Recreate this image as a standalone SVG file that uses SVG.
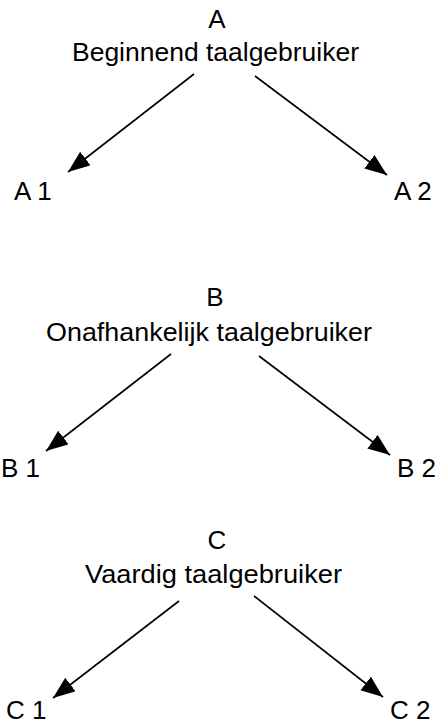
<svg xmlns="http://www.w3.org/2000/svg" width="436" height="724" viewBox="0 0 436 724">
<style>
text{font-family:"Liberation Sans",Arial,sans-serif;font-size:26px;fill:#000}
.c{text-anchor:middle}
.conn line{stroke:#000;stroke-width:1.6;marker-end:url(#ah)}
</style>
<defs>
<marker id="ah" markerUnits="userSpaceOnUse" markerWidth="24" markerHeight="18" refX="22" refY="8.5" orient="auto">
<path d="M0,0 L22,8.5 L0,17 z" fill="#000"/>
</marker>
</defs>
<rect width="436" height="724" fill="#fff"/>
<g id="A"><text class="c" x="217" y="28">A</text><text x="72" y="61" textLength="287" lengthAdjust="spacingAndGlyphs">Beginnend taalgebruiker</text></g>
<g id="A1"><text x="14" y="200">A 1</text></g>
<g id="A2"><text x="394" y="200">A 2</text></g>
<g id="B"><text class="c" x="215" y="306">B</text><text x="46" y="341" textLength="326" lengthAdjust="spacingAndGlyphs">Onafhankelijk taalgebruiker</text></g>
<g id="B1"><text x="1" y="477">B 1</text></g>
<g id="B2"><text x="397" y="477">B 2</text></g>
<g id="C"><text class="c" x="217" y="549">C</text><text x="85" y="583" textLength="257" lengthAdjust="spacingAndGlyphs">Vaardig taalgebruiker</text></g>
<g id="C1"><text x="6" y="719">C 1</text></g>
<g id="C2"><text x="390" y="719">C 2</text></g>
<g id="connectors" class="conn">
<line x1="194" y1="74" x2="68" y2="172"/>
<line x1="255" y1="76" x2="387" y2="175"/>
<line x1="171" y1="354" x2="46" y2="451"/>
<line x1="259" y1="356" x2="390" y2="455"/>
<line x1="179" y1="601" x2="53" y2="698"/>
<line x1="254" y1="596" x2="383" y2="697"/>
</g>
</svg>
